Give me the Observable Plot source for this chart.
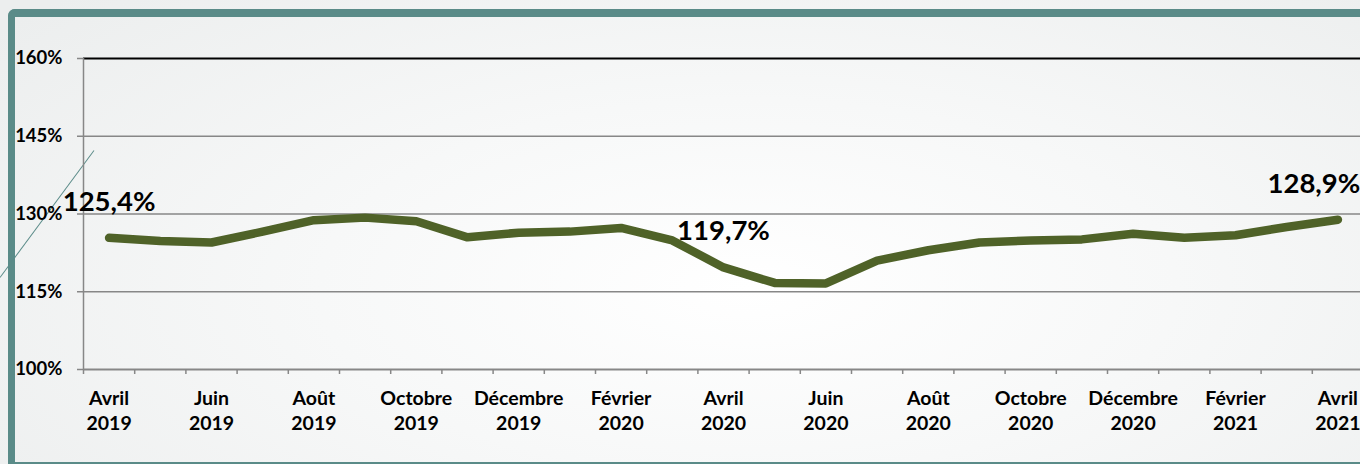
<!DOCTYPE html>
<html>
<head>
<meta charset="utf-8">
<script src="https://cdn.jsdelivr.net/npm/d3@7"></script>
<script src="https://cdn.jsdelivr.net/npm/@observablehq/plot@0.6"></script>
<style>
  html, body { margin: 0; padding: 0; width: 1360px; height: 464px; overflow: hidden; }
  body {
    position: relative;
    font-family: Lato, "Open Sans", sans-serif;
    background: radial-gradient(ellipse 70% 90% at 55% 62%, #ffffff 0%, #f7f8f8 45%, #eceeee 100%);
  }
  #frame {
    position: absolute; left: 8px; top: 9px; width: 1400px; height: 445px;
    border-left: 7px solid #5a8b88; border-top: 8px solid #5a8b88; border-bottom: 2px solid #5a8b88;
    border-top-left-radius: 7px;
  }
  #diag {
    position: absolute; left: 0; top: 277px; width: 158px; height: 1px;
    background: #5a8b88; transform-origin: 0 50%; transform: rotate(-53.5deg);
  }
  #chart { position: absolute; left: 0; top: 0; }
</style>
</head>
<body>
<div id="frame"></div>
<div id="diag"></div>
<div id="chart"></div>
<script>
// Monthly periods, April 2019 to April 2021
const periods = [
  "Avril 2019","Mai 2019","Juin 2019","Juillet 2019","Août 2019","Septembre 2019",
  "Octobre 2019","Novembre 2019","Décembre 2019","Janvier 2020","Février 2020","Mars 2020",
  "Avril 2020","Mai 2020","Juin 2020","Juillet 2020","Août 2020","Septembre 2020",
  "Octobre 2020","Novembre 2020","Décembre 2020","Janvier 2021","Février 2021","Mars 2021",
  "Avril 2021"
];
// Values in %
const values = [
  125.4, 124.8, 124.5, 126.6, 128.8, 129.3,
  128.6, 125.5, 126.4, 126.6, 127.3, 124.9,
  119.7, 116.7, 116.6, 121.0, 123.0, 124.5,
  124.9, 125.1, 126.2, 125.4, 125.9, 127.5,
  128.9
];
// X tick labels (every two months)
const tickLabels = [
  "Avril\n2019","Juin\n2019","Août\n2019","Octobre\n2019","Décembre\n2019","Février\n2020",
  "Avril\n2020","Juin\n2020","Août\n2020","Octobre\n2020","Décembre\n2020","Février\n2021",
  "Avril\n2021"
];
const tickIndex = [0,2,4,6,8,10,12,14,16,18,20,22,24];
const yTicks = [100, 115, 130, 145, 160];
// Annotated points
const annotIndex = [0, 12, 24];
const annotText = ["125,4%", "119,7%", "128,9%"];

const data = periods.map((p, i) => ({i, period: p, v: values[i]}));
const xLabels = tickIndex.map((i, k) => ({i, label: tickLabels[k]}));
const annots = annotIndex.map((i, k) => ({i, v: values[i], label: annotText[k]}));
const bounds = d3.range(periods.length + 1).map(k => k - 0.5);

const grid = "#878787";

const chart = Plot.plot({
  width: 1360,
  height: 464,
  marginTop: 58,
  marginBottom: 95,
  marginLeft: 83,
  marginRight: 0,
  style: {background: "transparent", fontFamily: "Lato, 'Open Sans', sans-serif", color: "#000", overflow: "visible"},
  x: {type: "linear", domain: [-0.5, periods.length - 0.5], range: [83, 1363], axis: null, label: null},
  y: {domain: [100, 160], axis: null, label: null},
  marks: [
    Plot.ruleY(yTicks.filter(d => d > 100 && d < 160), {stroke: grid, strokeWidth: 1.5}),
    Plot.ruleY([160], {stroke: "#000", strokeWidth: 2}),
    Plot.ruleX([-0.5], {y1: 100, y2: 160, stroke: grid, strokeWidth: 1.5}),
    Plot.ruleY([100], {stroke: grid, strokeWidth: 2}),
    Plot.axisY(yTicks, {
      anchor: "left", label: null, tickSize: 6, tickPadding: 15, stroke: grid, strokeWidth: 1.5,
      fill: "#000", fontSize: 18.5, fontWeight: "bold", tickFormat: d => d + "%"
    }),
    Plot.axisX(bounds, {
      anchor: "bottom", label: null, tickSize: 5, stroke: grid, strokeWidth: 1.5, tickFormat: () => ""
    }),
    Plot.text(xLabels, {
      x: "i", text: "label", frameAnchor: "bottom", lineAnchor: "bottom", dy: 60,
      lineHeight: 1.28, fontSize: 19.5, fontWeight: "bold", fill: "#000"
    }),
    Plot.line(data, {
      x: "i", y: "v", stroke: "#4f6228", strokeWidth: 8.5,
      strokeLinecap: "round", strokeLinejoin: "round"
    }),
    Plot.text(annots.slice(0, 2), {
      x: "i", y: "v", text: "label", lineAnchor: "bottom", dy: -27,
      fontSize: 27.5, fontWeight: "bold", fill: "#000"
    }),
    Plot.text(annots.slice(2), {
      x: "i", y: "v", text: "label", lineAnchor: "bottom", dy: -27, dx: -24,
      fontSize: 27.5, fontWeight: "bold", fill: "#000"
    })
  ]
});
document.getElementById("chart").appendChild(chart);
</script>
</body>
</html>
